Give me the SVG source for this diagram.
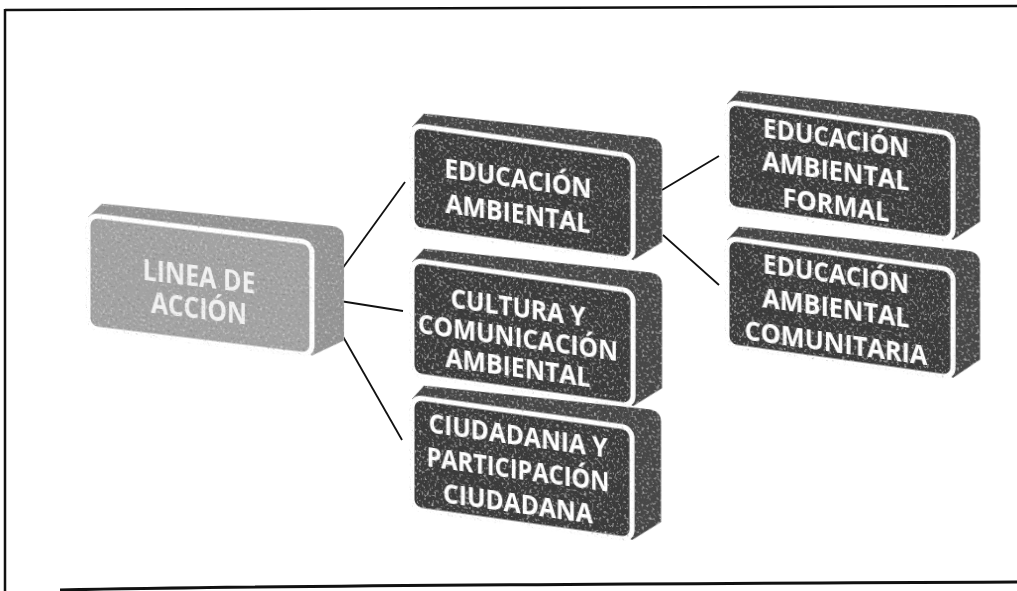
<svg xmlns="http://www.w3.org/2000/svg" width="1017" height="591" viewBox="0 0 1017 591">
<defs>
<filter id="grain" x="-5%" y="-5%" width="110%" height="110%">
<feTurbulence type="fractalNoise" baseFrequency="0.4" numOctaves="2" seed="7" result="n"/>
<feColorMatrix in="n" type="matrix" values="0 0 0 0 0.8  0 0 0 0 0.8  0 0 0 0 0.8  2 0 0 0 -1.15" result="lt"/>
<feColorMatrix in="n" type="matrix" values="0 0 0 0 0.1  0 0 0 0 0.1  0 0 0 0 0.1  -2 0 0 0 0.75" result="dk"/>
<feComposite in="lt" in2="SourceAlpha" operator="in" result="lti"/>
<feComposite in="dk" in2="SourceAlpha" operator="in" result="dki"/>
<feMerge><feMergeNode in="SourceGraphic"/><feMergeNode in="lti"/><feMergeNode in="dki"/></feMerge>
</filter>
</defs>
<style>
.back{fill:#464646}
.face{fill:#3b3b3b;stroke:#ffffff;stroke-width:5}
.backL{fill:#959595}
.faceL{fill:#a3a3a3;stroke:#ffffff;stroke-width:5}
.t{font-family:"Open Sans","Noto Sans","Liberation Sans",sans-serif;font-weight:700;font-size:27px;fill:#ffffff;text-anchor:middle}
.tl{font-size:29px;fill:#f2f2f2}
.conn{stroke:#111111;stroke-width:1.8;fill:none}
.frame{stroke:#111111;fill:none}
</style>
<rect x="0" y="0" width="1017" height="591" fill="#ffffff"/>
<g id="frame">
<path class="frame" stroke-width="2.5" d="M5,10 L1017,6"/>
<path class="frame" stroke-width="2.5" d="M5,9 L5,591"/>
<path class="frame" stroke-width="3" d="M60,590 Q300,585 1017,582"/>
</g>
<g id="connectors">
<line class="conn" x1="321" y1="298" x2="405" y2="182"/>
<line class="conn" x1="321" y1="298" x2="403" y2="311"/>
<line class="conn" x1="321" y1="298" x2="402" y2="440"/>
<line class="conn" x1="662" y1="190" x2="719" y2="156"/>
<line class="conn" x1="663" y1="235" x2="719" y2="285"/>
</g>
<g id="linea" transform="translate(88,215) skewY(7)" filter="url(#grain)">
<path class="backL" d="M0,2 L14,-13 L244,-19 Q256,-19 256,-8 L256,94 L224,113 Z"/>
<rect class="faceL" x="0" y="0" width="224" height="113" rx="10"/>
<text class="t tl" x="111" y="58" textLength="113" lengthAdjust="spacingAndGlyphs">LINEA DE</text>
<text class="t tl" x="111" y="90" textLength="96" lengthAdjust="spacingAndGlyphs">ACCIÓN</text>
</g>
<g id="educacion-ambiental" transform="translate(412,125) skewY(8)" filter="url(#grain)">
<path class="back" d="M0,2 L12,-13 L238,-21 Q250,-21 250,-10 L250,82 L221,104 Z"/>
<rect class="face" x="0" y="0" width="221" height="104" rx="10"/>
<text class="t" x="106" y="48" textLength="147" lengthAdjust="spacingAndGlyphs">EDUCACIÓN</text>
<text class="t" x="106" y="83" textLength="145" lengthAdjust="spacingAndGlyphs">AMBIENTAL</text>
</g>
<g id="cultura" transform="translate(412,260) skewY(8)" filter="url(#grain)">
<path class="back" d="M0,2 L12,-13 L238,-21 Q250,-21 250,-10 L250,93 L221,115 Z"/>
<rect class="face" x="0" y="0" width="221" height="115" rx="10"/>
<text class="t" x="106" y="42" textLength="135" lengthAdjust="spacingAndGlyphs">CULTURA Y</text>
<text class="t" x="106" y="72" textLength="200" lengthAdjust="spacingAndGlyphs">COMUNICACIÓN</text>
<text class="t" x="106" y="102" textLength="145" lengthAdjust="spacingAndGlyphs">AMBIENTAL</text>
</g>
<g id="ciudadania" transform="translate(412,397) skewY(8)" filter="url(#grain)">
<path class="back" d="M0,2 L12,-13 L237,-21 Q249,-21 249,-10 L249,90 L220,112 Z"/>
<rect class="face" x="0" y="0" width="220" height="112" rx="10"/>
<text class="t" x="106" y="33" textLength="179" lengthAdjust="spacingAndGlyphs">CIUDADANIA Y</text>
<text class="t" x="106" y="67" textLength="183" lengthAdjust="spacingAndGlyphs">PARTICIPACIÓN</text>
<text class="t" x="106" y="101" textLength="150" lengthAdjust="spacingAndGlyphs">CIUDADANA</text>
</g>
<g id="educacion-formal" transform="translate(727,102) skewY(8)" filter="url(#grain)">
<path class="back" d="M0,2 L12,-13 L241,-21 Q253,-21 253,-10 L253,84 L226,106 Z"/>
<rect class="face" x="0" y="0" width="226" height="106" rx="10"/>
<text class="t" x="109" y="30" textLength="146" lengthAdjust="spacingAndGlyphs">EDUCACIÓN</text>
<text class="t" x="109" y="63" textLength="147" lengthAdjust="spacingAndGlyphs">AMBIENTAL</text>
<text class="t" x="109" y="97" textLength="107" lengthAdjust="spacingAndGlyphs">FORMAL</text>
</g>
<g id="educacion-comunitaria" transform="translate(727,238) skewY(8)" filter="url(#grain)">
<path class="back" d="M0,2 L12,-13 L241,-21 Q253,-21 253,-10 L253,86 L226,108 Z"/>
<rect class="face" x="0" y="0" width="226" height="108" rx="10"/>
<text class="t" x="109" y="30" textLength="146" lengthAdjust="spacingAndGlyphs">EDUCACIÓN</text>
<text class="t" x="109" y="64" textLength="147" lengthAdjust="spacingAndGlyphs">AMBIENTAL</text>
<text class="t" x="109" y="99" textLength="183" lengthAdjust="spacingAndGlyphs">COMUNITARIA</text>
</g>
</svg>
